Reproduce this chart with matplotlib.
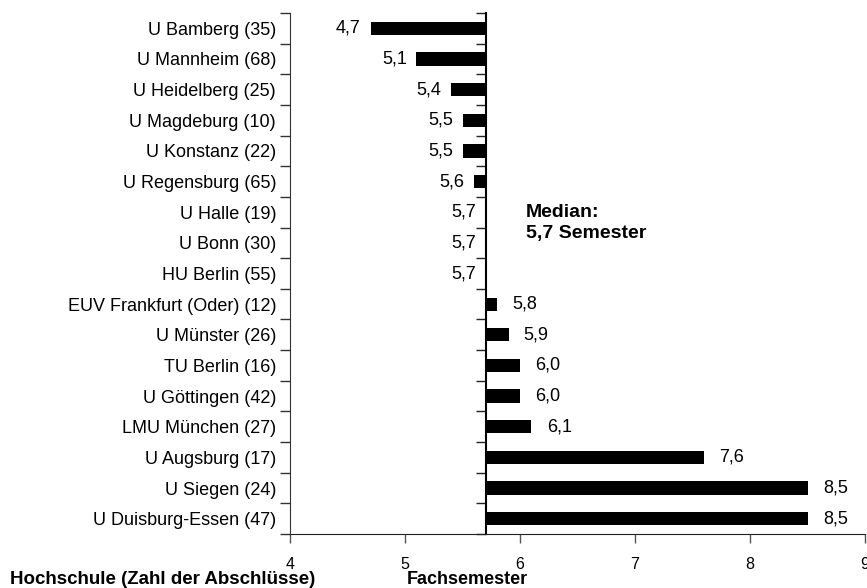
import matplotlib
matplotlib.use("Agg")
import matplotlib.pyplot as plt

plt.rcParams['font.family'] = ['Liberation Sans', 'DejaVu Sans']

schools = ["U Bamberg (35)", "U Mannheim (68)", "U Heidelberg (25)", "U Magdeburg (10)",
           "U Konstanz (22)", "U Regensburg (65)", "U Halle (19)", "U Bonn (30)",
           "HU Berlin (55)", "EUV Frankfurt (Oder) (12)", "U Münster (26)", "TU Berlin (16)",
           "U Göttingen (42)", "LMU München (27)", "U Augsburg (17)", "U Siegen (24)",
           "U Duisburg-Essen (47)"]
semester = [4.7, 5.1, 5.4, 5.5, 5.5, 5.6, 5.7, 5.7, 5.7, 5.8, 5.9, 6.0, 6.0, 6.1, 7.6, 8.5, 8.5]
median = 5.7
xticks = [4, 5, 6, 7, 8, 9]

fig = plt.figure(figsize=(8.67, 5.88), dpi=100)
ax = fig.add_axes([290/867, 1-534/588, 575/867, (534-13)/588])

ypos = list(range(len(schools)))
ax.barh(ypos, [v - median for v in semester], left=median, height=0.43, color='black')

for y, v in zip(ypos, semester):
    txt = f"{v:.1f}".replace('.', ',')
    if v > median:
        ax.annotate(txt, (v, y), xytext=(11, 0), textcoords='offset points',
                    ha='left', va='center', fontsize=13)
    else:
        ax.annotate(txt, (v, y), xytext=(-7, 0), textcoords='offset points',
                    ha='right', va='center', fontsize=13)

ax.set_xlim(4, 9)
ax.set_ylim(len(schools) - 0.5, -0.5)
ax.set_yticks(ypos)
ax.set_yticklabels(schools, fontsize=13)
ax.set_yticks([i - 0.5 for i in range(len(schools) + 1)], minor=True)
ax.tick_params(axis='y', which='major', length=0, pad=10)
ax.tick_params(axis='y', which='minor', length=7, width=1, color='#333333')
ax.set_xticks(xticks)
ax.tick_params(axis='x', length=6.5, width=1, pad=10, labelsize=11.5, color='#555555')

for s in ['top', 'right']:
    ax.spines[s].set_visible(False)
ax.spines['left'].set_color('#333333')
ax.spines['bottom'].set_color('#222222')

# median axis line with boundary ticks
sec = ax.secondary_yaxis((median - 4) / 5)
sec.set_yticks([i - 0.5 for i in range(len(schools) + 1)])
sec.tick_params(length=7, width=1, labelleft=False, color='#222222')
sec.spines['left'].set_linewidth(1.5)

ax.text(6.05, 6.35, "Median:\n5,7 Semester", fontsize=14, fontweight='bold',
        va='center', ha='left', linespacing=1.35)

fig.text(10/867, 1-580/588, "Hochschule (Zahl der Abschlüsse)", fontsize=13.5,
         fontweight='bold', va='center', ha='left')
fig.text(407/867, 1-580/588, "Fachsemester", fontsize=13,
         fontweight='bold', va='center', ha='left')

fig.savefig("out.png", dpi=100)
